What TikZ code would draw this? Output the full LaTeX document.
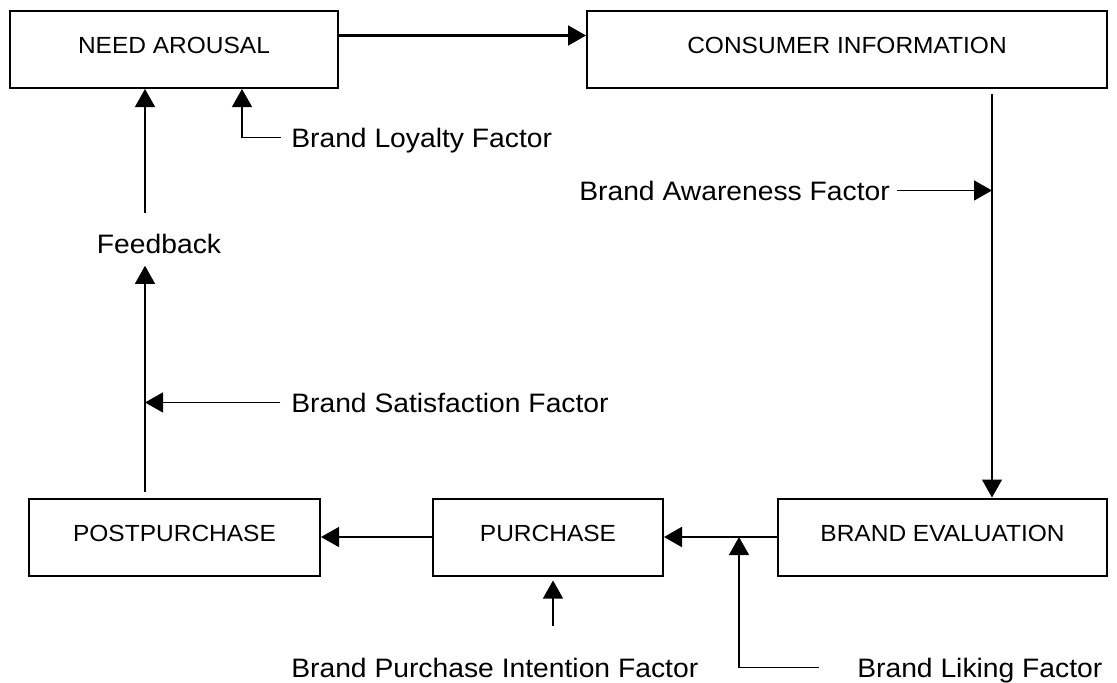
\documentclass[tikz,border=0pt]{standalone}
\usepackage{fontspec}
\setmainfont{Liberation Sans}[FakeStretch=1.05]
\newfontfamily\lblfont{Liberation Sans}[FakeStretch=1.06]
\usetikzlibrary{arrows.meta}
\begin{document}
\begin{tikzpicture}[x=0.75pt,y=-0.75pt,
  box/.style={draw, line width=1.5pt, inner sep=0pt, minimum height=57.75pt,
    text depth=6pt, font=\fontsize{17.5}{20}\selectfont},
  lbl/.style={inner sep=0pt, text height=14.3pt, text depth=0pt,
    font=\lblfont\fontsize{20}{23}\selectfont},
  arr/.style={line width=1pt, -{Triangle[length=13.5pt,width=15pt]}},
  bigarr/.style={arr, line width=1.6pt}]
\useasboundingbox (0,0) rectangle (1117,682);

% stages of the process
\node[box, minimum width=246pt]    (need)  at (174,49.5)  {NEED AROUSAL};
\node[box, minimum width=390pt]    (cons)  at (847,49.5)  {CONSUMER INFORMATION};
\node[box, minimum width=246.75pt] (beval) at (942.5,537) {BRAND EVALUATION};
\node[box, minimum width=172.5pt]  (purch) at (548,537)   {PURCHASE};
\node[box, minimum width=218.25pt] (post)  at (174.5,537) {POSTPURCHASE};

% brand factors
\node[lbl, anchor=base west] (loy) at (291,147) {Brand Loyalty Factor};
\node[lbl]                   (fb)  at (159,244) {Feedback};
\node[lbl, anchor=base west] (aw)  at (579,200) {Brand Awareness Factor};
\node[lbl, anchor=base west] (sat) at (291,412) {Brand Satisfaction Factor};
\node[lbl, anchor=base west] (pi)  at (291,677) {Brand Purchase Intention Factor};
\node[lbl, anchor=base west] (lik) at (857,677) {Brand Liking Factor};

% vertical guide lines
\coordinate (vx)  at (992,0);
\coordinate (lx)  at (145,0);
\coordinate (ly)  at (242,0);
\coordinate (lkx) at (739,0);
\coordinate (px)  at (553,0);

% main flow
\draw[bigarr] ([yshift=10.5pt]need.east) -- ([yshift=10.5pt]cons.west);
\draw[arr, shorten <=3.5pt] (cons.south -| vx) -- (beval.north -| vx);
\draw[bigarr] (beval.west) -- (purch.east);
\draw[arr] (purch.west) -- (post.east);
\draw[arr, shorten <=4pt, shorten >=9pt] (post.north -| lx) -- (fb.south -| lx);
\draw[arr, shorten <=16pt] (fb.north -| lx) -- (need.south -| lx);

% factor inputs
\draw[arr, shorten <=5pt] (aw.east) -- (aw.east -| vx);
\draw[arr, shorten <=8pt] (sat.west) -- (sat.west -| lx);
\draw[arr, shorten <=7.5pt] (loy.west) -| (need.south -| ly);
\draw[arr, shorten <=28.5pt] (lik.west) -| (beval.west -| lkx);
\draw[arr, shorten <=24pt, shorten >=3pt] (pi.north -| px) -- (purch.south -| px);
\end{tikzpicture}
\end{document}
